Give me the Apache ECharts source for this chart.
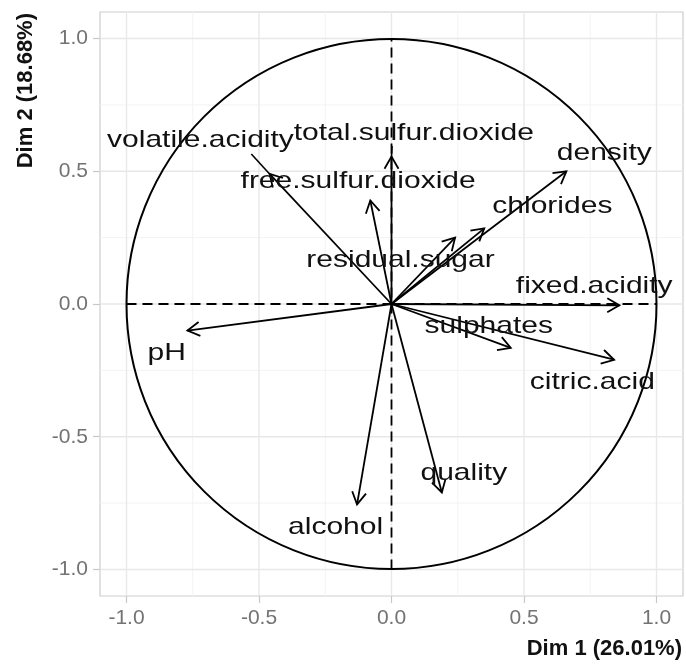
<!DOCTYPE html>
<html>
<head>
<meta charset="utf-8">
<script src="https://cdn.jsdelivr.net/npm/echarts@6/dist/echarts.min.js"></script>
<style>
  html, body { margin: 0; padding: 0; background: #ffffff; }
  #chart { width: 686px; height: 666px; }
</style>
</head>
<body>
<div id="chart"></div>
<script>
// Correlation of each wine variable with the first two principal dimensions
const variables = ['fixed.acidity', 'volatile.acidity', 'citric.acid', 'residual.sugar',
  'chlorides', 'free.sulfur.dioxide', 'total.sulfur.dioxide', 'density', 'pH',
  'sulphates', 'alcohol', 'quality'];
const dim1 = [0.86, -0.46, 0.84, 0.24, 0.35, -0.08, 0.00, 0.66, -0.77, 0.45, -0.13, 0.19];
const dim2 = [-0.005, 0.49, -0.21, 0.25, 0.285, 0.39, 0.555, 0.50, -0.10, -0.165, -0.755, -0.71];

// Axis ticks and titles
const majorTicks = [-1, -0.5, 0, 0.5, 1];
const minorTicks = [-0.75, -0.25, 0.25, 0.75];
const xTitle = 'Dim 1 (26.01%)';
const yTitle = 'Dim 2 (18.68%)';

// Label placement (text centre, baseline) in plot units, after repelling overlaps
const labelSpot = {
  'fixed.acidity': [0.765, 0.034],
  'volatile.acidity': [-0.721, 0.586],
  'citric.acid': [0.758, -0.325],
  'residual.sugar': [0.034, 0.134],
  'chlorides': [0.607, 0.338],
  'free.sulfur.dioxide': [-0.126, 0.429],
  'total.sulfur.dioxide': [0.084, 0.611],
  'density': [0.803, 0.537],
  'pH': [-0.848, -0.216],
  'sulphates': [0.367, -0.117],
  'alcohol': [-0.211, -0.871],
  'quality': [0.273, -0.671]
};
// Leader segments for labels pushed away from their arrow tip
const leaderFrom = {
  'volatile.acidity': [-0.529, 0.565],
  'total.sulfur.dioxide': [0.002, 0.595]
};

const INK = '#000000';
const FONT = '"Liberation Sans", Arial, sans-serif';
const LABEL_PX = 24;

const chart = echarts.init(document.getElementById('chart'), null, { renderer: 'canvas' });

const tipOf = {};
variables.forEach((n, i) => { tipOf[n] = [dim1[i], dim2[i]]; });

function axisCommon() {
  return {
    type: 'value',
    min: -1.1,
    max: 1.1,
    axisLine: { show: false, onZero: false },
    axisTick: { show: true, customValues: majorTicks, length: 7, lineStyle: { color: '#c8c8c8', width: 1.2 } },
    axisLabel: {
      customValues: majorTicks,
      formatter: v => v.toFixed(1),
      color: '#737373',
      fontSize: 21,
      fontFamily: FONT,
      margin: 12
    },
    splitLine: { show: false }
  };
}

const xAxis = Object.assign(axisCommon(), {
  name: xTitle,
  nameLocation: 'end',
  nameGap: -1,
  nameTextStyle: {
    fontWeight: 'bold', fontSize: 22, fontFamily: FONT, color: '#111111',
    align: 'right', verticalAlign: 'top', padding: [42, 0, 0, 0]
  }
});
const yAxis = Object.assign(axisCommon(), {
  name: yTitle,
  nameLocation: 'end',
  nameGap: -1,
  nameRotate: 90,
  nameTextStyle: {
    fontWeight: 'bold', fontSize: 22, fontFamily: FONT, color: '#111111',
    align: 'right', verticalAlign: 'bottom', padding: [0, 0, 63, 0]
  }
});

const option = {
  animation: false,
  backgroundColor: '#ffffff',
  grid: {
    left: 100, top: 12, right: 3, bottom: 70,
    show: true, borderColor: '#cdcdcd', borderWidth: 1.2, backgroundColor: '#ffffff'
  },
  xAxis: xAxis,
  yAxis: yAxis,
  series: [
    {
      // background grid (major and minor lines across the panel)
      type: 'custom',
      data: [[0, 0]],
      silent: true,
      z: 0,
      renderItem: function (params, api) {
        const cs = params.coordSys;
        const children = [];
        const add = (v, style) => {
          const px = api.coord([v, 0])[0];
          const py = api.coord([0, v])[1];
          children.push({ type: 'line', shape: { x1: px, y1: cs.y, x2: px, y2: cs.y + cs.height }, style: style });
          children.push({ type: 'line', shape: { x1: cs.x, y1: py, x2: cs.x + cs.width, y2: py }, style: style });
        };
        minorTicks.forEach(v => add(v, { stroke: '#f3f3f3', lineWidth: 1 }));
        majorTicks.forEach(v => add(v, { stroke: '#e8e8e8', lineWidth: 1.4 }));
        return { type: 'group', children: children };
      }
    },
    {
      // unit correlation circle and dashed reference axes
      type: 'custom',
      data: [[0, 0]],
      silent: true,
      z: 2,
      renderItem: function (params, api) {
        const c = api.coord([0, 0]);
        const r = api.size([1, 0])[0];
        const l = api.coord([-1, 0]), rt = api.coord([1, 0]);
        const b = api.coord([0, -1]), t = api.coord([0, 1]);
        const dash = { stroke: INK, lineWidth: 1.8, lineDash: [10, 6] };
        return {
          type: 'group',
          children: [
            { type: 'circle', shape: { cx: c[0], cy: c[1], r: r }, style: { stroke: INK, fill: null, lineWidth: 2 } },
            { type: 'line', shape: { x1: l[0], y1: l[1], x2: rt[0], y2: rt[1] }, style: dash },
            { type: 'line', shape: { x1: b[0], y1: b[1], x2: t[0], y2: t[1] }, style: dash }
          ]
        };
      }
    },
    {
      // variable arrows
      type: 'custom',
      data: variables.map((n, i) => ({ name: n, value: [dim1[i], dim2[i]] })),
      silent: true,
      z: 3,
      renderItem: function (params, api) {
        const o = api.coord([0, 0]);
        const t = api.coord([api.value(0), api.value(1)]);
        const back = Math.atan2(o[1] - t[1], o[0] - t[0]);
        const len = 14, spread = Math.PI / 6;
        const a1 = [t[0] + len * Math.cos(back + spread), t[1] + len * Math.sin(back + spread)];
        const a2 = [t[0] + len * Math.cos(back - spread), t[1] + len * Math.sin(back - spread)];
        return {
          type: 'group',
          children: [
            { type: 'line', shape: { x1: o[0], y1: o[1], x2: t[0], y2: t[1] }, style: { stroke: INK, lineWidth: 1.8 } },
            { type: 'polyline', shape: { points: [a1, t, a2] }, style: { stroke: INK, fill: null, lineWidth: 1.8 } }
          ]
        };
      }
    },
    {
      // variable names
      type: 'custom',
      data: variables.map(n => ({ name: n, value: labelSpot[n] })),
      silent: true,
      z: 4,
      renderItem: function (params, api) {
        const name = variables[params.dataIndex];
        const p = api.coord([api.value(0), api.value(1)]);
        const children = [{
          type: 'text',
          x: p[0],
          y: p[1] - 0.3465 * LABEL_PX,
          scaleX: 1.25,
          style: {
            text: name, x: 0, y: 0, align: 'center', verticalAlign: 'middle',
            fill: '#111111', font: LABEL_PX + 'px ' + FONT
          }
        }];
        if (leaderFrom[name]) {
          const s = api.coord(leaderFrom[name]);
          const e = api.coord(tipOf[name]);
          children.push({ type: 'line', shape: { x1: s[0], y1: s[1], x2: e[0], y2: e[1] }, style: { stroke: INK, lineWidth: 1.6 } });
        }
        return { type: 'group', children: children };
      }
    }
  ]
};

chart.setOption(option);
</script>
</body>
</html>
